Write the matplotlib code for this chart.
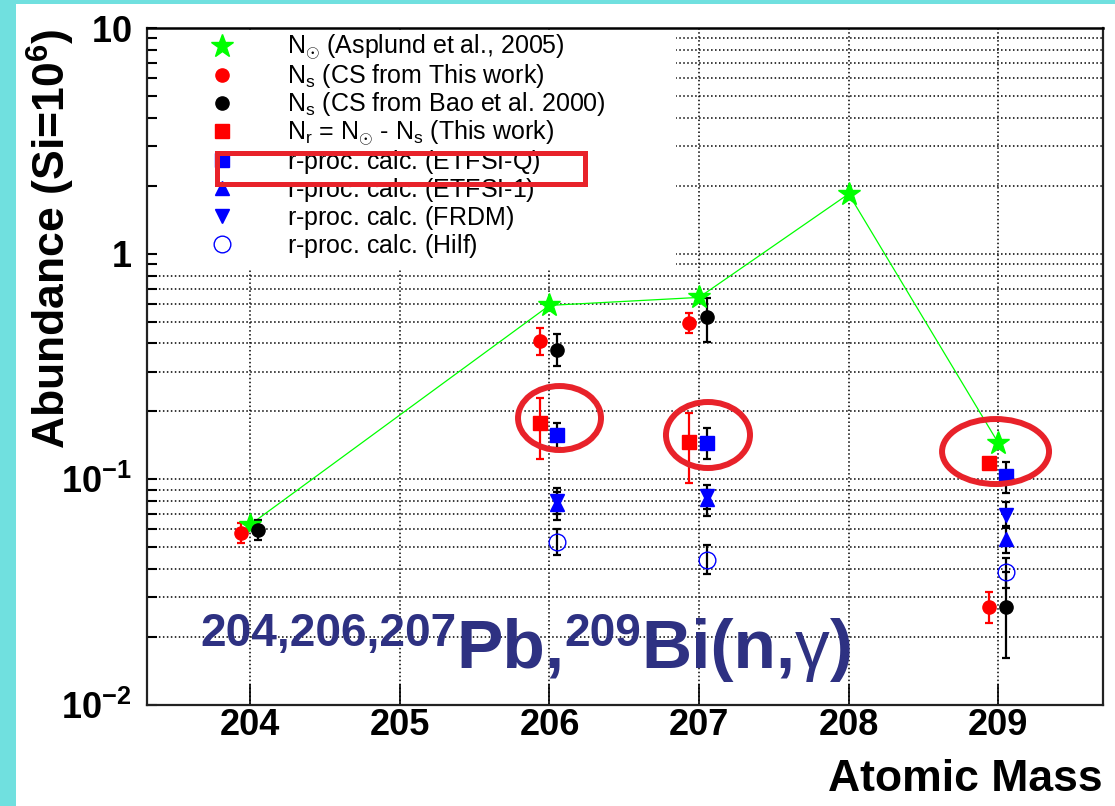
import matplotlib
matplotlib.use("Agg")
import matplotlib.pyplot as plt
from matplotlib.patches import Ellipse, Rectangle
from matplotlib.ticker import NullFormatter, LogLocator
import numpy as np

plt.rcParams['font.family'] = ['Liberation Sans', 'DejaVu Sans']
plt.rcParams['mathtext.fontset'] = 'custom'
plt.rcParams['mathtext.rm'] = 'Liberation Sans'
plt.rcParams['mathtext.it'] = 'Liberation Sans:italic'
plt.rcParams['mathtext.bf'] = 'Liberation Sans:bold'
plt.rcParams['mathtext.sf'] = 'Liberation Sans'

# ---------------- data ----------------
mass_sun = [204, 206, 207, 208, 209]
n_sun = [0.063, 0.59, 0.64, 1.84, 0.145]

mass_ns = [204, 206, 207, 209]
ns_this = [0.058, 0.412, 0.495, 0.0273]
ns_this_lo = [0.052, 0.357, 0.447, 0.0232]
ns_this_hi = [0.064, 0.470, 0.548, 0.0318]

ns_bao = [0.0598, 0.376, 0.526, 0.0273]
ns_bao_lo = [0.054, 0.319, 0.407, 0.0161]
ns_bao_hi = [0.066, 0.442, 0.638, 0.039]

mass_r = [206, 207, 209]
nr_this = [0.177, 0.147, 0.1186]
nr_this_lo = [0.123, 0.0967, 0.1186]
nr_this_hi = [0.230, 0.197, 0.1186]

etfsi_q = [0.158, 0.145, 0.103]
etfsi_q_lo = [0.138, 0.123, 0.087]
etfsi_q_hi = [0.178, 0.168, 0.119]

etfsi_1 = [0.078, 0.082, 0.0546]
etfsi_1_lo = [0.0658, 0.0685, 0.0473]
etfsi_1_hi = [0.088, 0.090, 0.062]

frdm = [0.080, 0.084, 0.0698]
frdm_lo = [0.070, 0.074, 0.061]
frdm_hi = [0.092, 0.094, 0.0797]

hilf = [0.053, 0.044, 0.039]
hilf_lo = [0.046, 0.038, 0.0331]
hilf_hi = [0.0605, 0.051, 0.0448]

xticks = [204, 205, 206, 207, 208, 209]
xtick_labels = ['204', '205', '206', '207', '208', '209']
yticks = [0.01, 0.1, 1, 10]
ytick_labels = [r'$\mathbf{10^{-2}}$', r'$\mathbf{10^{-1}}$', r'$\mathbf{1}$', r'$\mathbf{10}$']

labels = [r'N$_{\odot}$ (Asplund et al., 2005)',
          r'N$_{\mathrm{s}}$ (CS from This work)',
          r'N$_{\mathrm{s}}$ (CS from Bao et al. 2000)',
          r'N$_{\mathrm{r}}$ = N$_{\odot}$ - N$_{\mathrm{s}}$ (This work)',
          r'r-proc. calc. (ETFSI-Q)$\,$',
          r'r-proc. calc. (ETFSI-1)$\,$',
          r'r-proc. calc. (FRDM)$\,$',
          r'r-proc. calc. (Hilf)$\,$']

# ---------------- figure ----------------
W, H = 1115, 806
fig = plt.figure(figsize=(W / 100, H / 100), dpi=100)
fig.patches.append(Rectangle((0, 0), 16 / W, 1, transform=fig.transFigure,
                             facecolor='#70e0df', edgecolor='none', zorder=0))
fig.patches.append(Rectangle((0, 1 - 3.5 / H), 1, 3.5 / H, transform=fig.transFigure,
                             facecolor='#70e0df', edgecolor='none', zorder=0))

ax = fig.add_axes([147 / W, 1 - 705 / H, 956 / W, 677 / H])
ax.set_yscale('log')
ax.set_xlim(203.31, 209.70)
ax.set_ylim(0.01, 10)

LEFT = -0.065
RIGHT = 0.05


def err(v, lo, hi):
    v = np.asarray(v)
    return [v - np.asarray(lo), np.asarray(hi) - v]


def shift(m, d):
    return np.asarray(m, dtype=float) + d


ebk = dict(fmt='none', elinewidth=1.6, capsize=3, capthick=1.6, zorder=3)

# green line + stars
ax.plot(mass_sun, n_sun, color='#00ff00', lw=0.9, zorder=2)
h_sun, = ax.plot(mass_sun, n_sun, ls='none', marker='*', ms=17, color='#00ff00',
                 mec='#00ff00', zorder=3.5)

# error bars
ax.errorbar(shift(mass_ns, LEFT), ns_this, yerr=err(ns_this, ns_this_lo, ns_this_hi),
            ecolor='#ff0000', **ebk)
ax.errorbar(shift(mass_ns, RIGHT), ns_bao, yerr=err(ns_bao, ns_bao_lo, ns_bao_hi),
            ecolor='black', **ebk)
ax.errorbar(shift(mass_r, LEFT), nr_this, yerr=err(nr_this, nr_this_lo, nr_this_hi),
            ecolor='#ff0000', **ebk)
ax.errorbar(shift(mass_r, RIGHT), etfsi_q, yerr=err(etfsi_q, etfsi_q_lo, etfsi_q_hi),
            ecolor='black', **ebk)
ax.errorbar(shift(mass_r, RIGHT), etfsi_1, yerr=err(etfsi_1, etfsi_1_lo, etfsi_1_hi),
            ecolor='black', **ebk)
ax.errorbar(shift(mass_r, RIGHT), frdm, yerr=err(frdm, frdm_lo, frdm_hi),
            ecolor='black', **ebk)
ax.errorbar(shift(mass_r, RIGHT), hilf, yerr=err(hilf, hilf_lo, hilf_hi),
            ecolor='black', **ebk)

# markers
h_nsthis, = ax.plot(shift(mass_ns, LEFT), ns_this, ls='none', marker='o', ms=9.5,
                    color='#ff0000', zorder=4)
h_nsbao, = ax.plot(shift(mass_ns, RIGHT), ns_bao, ls='none', marker='o', ms=9.5,
                   color='black', zorder=4)
h_nr, = ax.plot(shift(mass_r, LEFT), nr_this, ls='none', marker='s', ms=10,
                color='#ff0000', zorder=4)
h_q, = ax.plot(shift(mass_r, RIGHT), etfsi_q, ls='none', marker='s', ms=10,
               color='#0000ff', zorder=4)
h_1, = ax.plot(shift(mass_r, RIGHT), etfsi_1, ls='none', marker='^', ms=10.5,
               color='#0000ff', zorder=4)
h_fr, = ax.plot(shift(mass_r, RIGHT), frdm, ls='none', marker='v', ms=10.5,
                color='#0000ff', zorder=4)
h_hi, = ax.plot(shift(mass_r, RIGHT), hilf, ls='none', marker='o', ms=12,
                mfc='none', mec='#0000ff', mew=1.0, zorder=4)

# axes styling
grid_style = dict(ls=(0, (1.0, 1.6)), lw=1.1, color='black')
ax.set_axisbelow(True)
ax.grid(which='both', axis='y', **grid_style)
ax.grid(which='major', axis='x', **grid_style)
ax.set_xticks(xticks, labels=xtick_labels)
ax.set_yticks(yticks, labels=ytick_labels)
ax.yaxis.set_minor_locator(LogLocator(base=10, subs=np.arange(2, 10)))
ax.yaxis.set_minor_formatter(NullFormatter())
ax.tick_params(axis='x', which='major', direction='in', length=15, width=1.2,
               labelsize=26, pad=2, colors='black')
ax.tick_params(axis='y', which='both', direction='in', length=7, width=1.5,
               labelsize=26, pad=11)
for lab in ax.get_xticklabels():
    lab.set_fontweight('bold')
for s in ['left', 'bottom', 'right']:
    ax.spines[s].set_linewidth(1.6)
    ax.spines[s].set_color('#222222')
ax.spines['top'].set_linestyle((0, (1.0, 1.0)))
ax.spines['top'].set_linewidth(1.8)

ax.set_xlabel('Atomic Mass', fontsize=32, fontweight='bold')
ax.xaxis.set_label_coords(1.0, -0.0805)
ax.xaxis.label.set_ha('right')
ax.set_ylabel(r'Abundance (Si=10$^{\mathbf{6}}$)', fontsize=32, fontweight='bold', loc='top')
ax.yaxis.set_label_coords(-0.0732, 1.0)

# white box behind legend
ax.add_patch(Rectangle((0.0115, 0.6425), 0.542, 0.353, transform=ax.transAxes,
                       facecolor='white', edgecolor='none', zorder=1.5))

leg = ax.legend([h_sun, h_nsthis, h_nsbao, h_nr, h_q, h_1, h_fr, h_hi], labels,
                loc='upper left', bbox_to_anchor=(50 / 956, (705 - 33) / 677),
                frameon=False, fontsize=18, borderpad=0, borderaxespad=0,
                handlelength=2.0, handletextpad=1.6, labelspacing=0.0, numpoints=1)
leg.set_zorder(5)

# highlight marks
red = '#e8222a'
ax.add_patch(Rectangle((0.0727, 0.7703), 0.385, 0.0458, transform=ax.transAxes,
                       fill=False, edgecolor=red, lw=3.6, zorder=6))
for cx, cy, w, h in [(0.4315, 0.4239, 0.0868, 0.0945),
                     (0.5868, 0.3988, 0.0879, 0.0975),
                     (0.8876, 0.3744, 0.1119, 0.0960)]:
    ax.add_patch(Ellipse((cx, cy), w, h, transform=ax.transAxes, fill=False,
                         edgecolor=red, lw=4.3, zorder=6))

# big reaction label, built piece by piece
navy = '#2e3182'
pieces = [('204,206,207', 33, 646, 'bold'),
          ('Pb,', 50, 668, 'bold'),
          ('209', 33, 646, 'bold'),
          ('Bi(n,', 50, 668, 'bold'),
          ('\u03b3', 50, 668, 'normal'),
          (')', 50, 668, 'bold')]
renderer = fig.canvas.get_renderer()
xpx = 200.0
for txt, size, base, weight in pieces:
    t = fig.text(xpx / W, 1 - base / H, txt, fontsize=size, fontweight=weight,
                 color=navy, ha='left', va='baseline', zorder=7)
    bb = t.get_window_extent(renderer=renderer)
    xpx += bb.width

fig.savefig('out.png', dpi=100)
